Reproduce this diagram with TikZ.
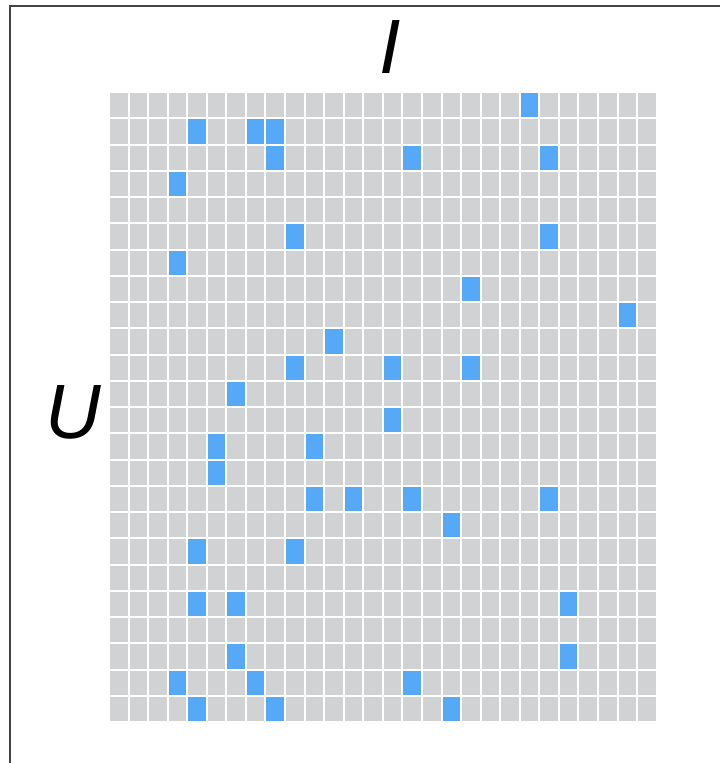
\documentclass[tikz,border=0pt]{standalone}
\usepackage{fontspec}
\newfontfamily\labfont{Liberation Sans}
\definecolor{cellgray}{HTML}{D1D2D4}
\definecolor{cellblue}{HTML}{55A9F7}
\definecolor{framegray}{HTML}{444444}
\begin{document}
\begin{tikzpicture}[x=1pt,y=-1pt,
  cell/.style={fill=cellgray,draw=none},
  hit/.style={fill=cellblue,draw=none},
  axislabel/.style={font=\labfont\itshape\fontsize{77}{77}\selectfont,inner sep=0pt,text=black}]
\useasboundingbox (0,0) rectangle (720,763);
\fill[white] (0,0) rectangle (720,763);
\draw[framegray,line width=1.2pt] (10,763) -- (10,6) -- (720,6);
\def\px{19.56}
\def\py{26.26}
\def\gx{2.0}
\def\gy{2.0}
\foreach \c in {0,...,27}{
  \foreach \r in {0,...,23}{
    \fill[cell] ({110+\c*\px},{93+\r*\py}) rectangle ({110+(\c+1)*\px-\gx},{93+(\r+1)*\py-\gy});
  }
}
\foreach \c/\r in {21/0, 4/1, 7/1, 8/1, 8/2, 15/2, 22/2, 3/3, 9/5, 22/5, 3/6, 18/7, 26/8, 11/9, 9/10, 14/10, 18/10, 6/11, 14/12, 5/13, 10/13, 5/14, 10/15, 12/15, 15/15, 22/15, 17/16, 4/17, 9/17, 4/19, 6/19, 23/19, 6/21, 23/21, 3/22, 7/22, 15/22, 4/23, 8/23, 17/23}{
  \fill[hit] ({110+\c*\px},{93+\r*\py}) rectangle ({110+(\c+1)*\px-\gx},{93+(\r+1)*\py-\gy});
}
\node[axislabel] (labI) at (390,47) {I};
\node[axislabel] (labU) at (73,412) {U};
\end{tikzpicture}
\end{document}
